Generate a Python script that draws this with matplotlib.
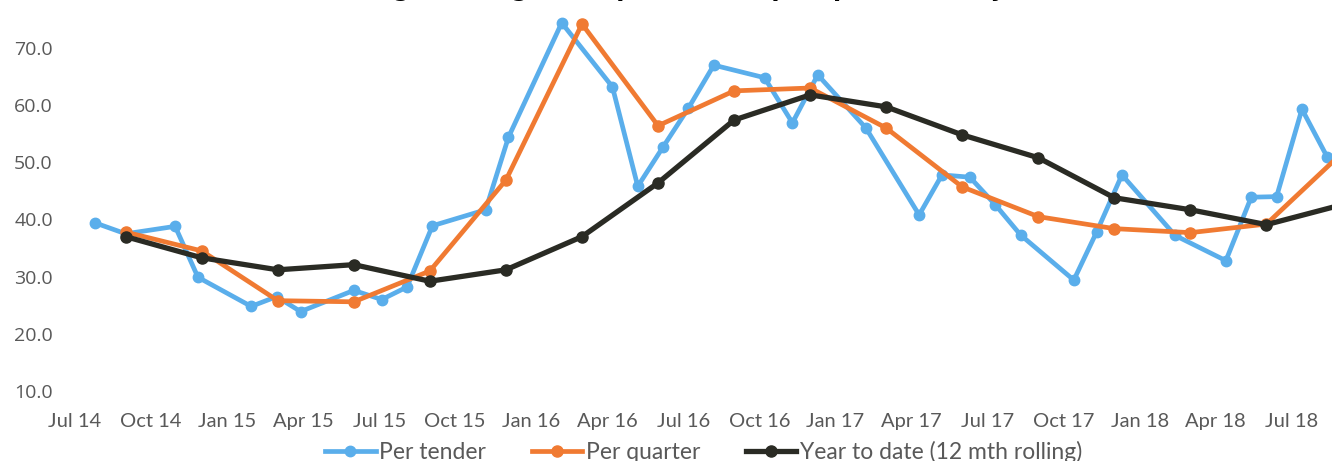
import matplotlib
matplotlib.use("Agg")
import matplotlib.pyplot as plt

# months counted from Jul 2014 (0 = Jul 14)
tick_labels = ["Jul 14", "Oct 14", "Jan 15", "Apr 15", "Jul 15", "Oct 15",
               "Jan 16", "Apr 16", "Jul 16", "Oct 16", "Jan 17", "Apr 17",
               "Jul 17", "Oct 17", "Jan 18", "Apr 18", "Jul 18"]

# individual tenders
tender_month = [0.8, 2.0, 3.95, 4.85, 6.95, 7.95, 8.9, 11.0, 12.1, 13.1, 14.1,
                16.2, 17.1, 19.2, 21.2, 22.2, 23.2, 24.2, 25.2, 27.2, 28.3,
                29.3, 31.2, 33.3, 34.2, 35.3, 36.3, 37.3, 39.4, 40.3, 41.3,
                43.4, 45.4, 46.4, 47.4, 48.4, 49.4]
per_tender = [39.4, 37.5, 38.8, 29.9, 24.8, 26.5, 23.9, 27.6, 26.0, 28.2, 38.9,
              41.7, 54.4, 74.4, 63.2, 45.8, 52.7, 59.5, 67.0, 64.8, 56.9,
              65.3, 56.0, 40.8, 47.8, 47.4, 42.6, 37.3, 29.4, 37.8, 47.8,
              37.2, 32.8, 43.9, 44.0, 59.3, 50.9]

# quarter ends (Sep 14 .. Sep 18)
quarter_month = [2, 5, 8, 11, 14, 17, 20, 23, 26, 29, 32, 35, 38, 41, 44, 47, 50]
per_quarter = [37.8, 34.5, 25.8, 25.6, 31.0, 46.9, 74.2, 56.4, 62.5, 63.0,
               56.0, 45.7, 40.5, 38.4, 37.7, 39.2, 51.7]
year_to_date = [37.0, 33.3, 31.2, 32.1, 29.2, 31.2, 37.0, 46.4, 57.4, 61.8,
                59.7, 54.8, 50.8, 43.8, 41.7, 39.1, 42.6]

W, H = 1332, 461
fig = plt.figure(figsize=(W / 100, H / 100), dpi=100)
ax = fig.add_axes([75 / W, (461 - 391) / H, 1 - 75 / W, (391 - 19.4) / H])

ax.plot(tender_month, per_tender, color="#5AAEEB", lw=3.4, marker="o",
        ms=7.5, label="Per tender", clip_on=False, zorder=3)
ax.plot(quarter_month, per_quarter, color="#F07A32", lw=3.4, marker="o",
        ms=8, label="Per quarter", clip_on=False, zorder=4)
ax.plot(quarter_month, year_to_date, color="#2A2B24", lw=3.8, marker="o",
        ms=8, label="Year to date (12 mth rolling)", clip_on=False, zorder=5)

ax.set_xlim(0, (W - 75) / 25.35)
ax.set_ylim(10, 75)
ax.set_xticks(range(0, 49, 3))
ax.set_xticklabels(tick_labels, fontfamily="Lato", fontsize=14.5, color="#595959")
ax.set_yticks(range(10, 71, 10))
ax.set_yticklabels([f"{v:.1f}" for v in range(10, 71, 10)],
                   fontfamily="Open Sans", fontsize=14, color="#595959")
ax.tick_params(axis="both", length=0)
ax.tick_params(axis="y", pad=16)
ax.tick_params(axis="x", pad=16)
for s in ax.spines.values():
    s.set_visible(False)

leg = ax.legend(loc="center", bbox_to_anchor=(0.5, -(452 - 391) / 371.6), ncol=3,
                frameon=False, handlelength=2.2, columnspacing=2.0,
                handletextpad=0.15, borderpad=0, borderaxespad=0,
                prop={"family": "Lato", "size": 16.5})
for t in leg.get_texts():
    t.set_color("#595959")

fig.text(0.552, 1 + 4 / H, "Average tonnage sold per tender, per quarter and year to date",
         ha="center", va="baseline", fontsize=17, fontweight="bold", color="black")

fig.savefig("out.png", dpi=100)
